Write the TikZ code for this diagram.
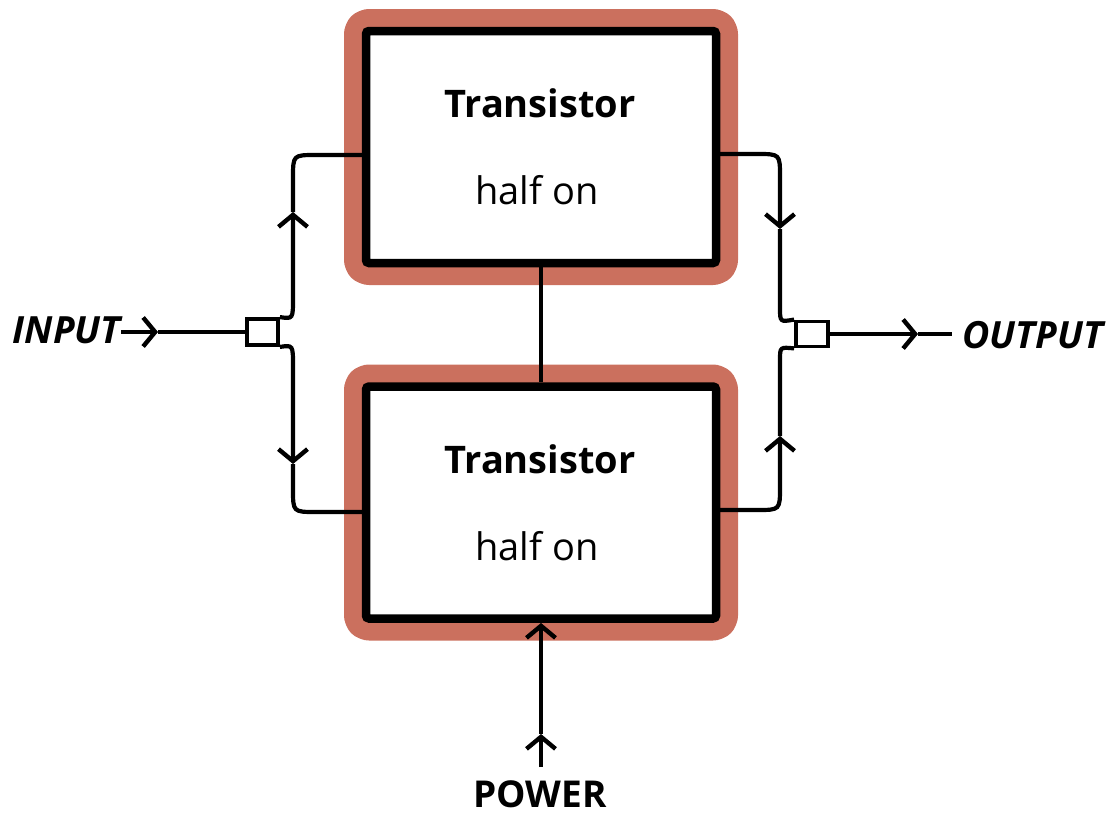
\documentclass[tikz,border=0pt]{standalone}
\usepackage{fontspec}
\setmainfont{Open Sans}
\usetikzlibrary{arrows.meta}
\definecolor{salmon}{RGB}{203,112,94}
\tikzset{
  box/.style={draw=black, fill=white, line width=8.5pt, rounded corners=3pt,
    minimum width=350pt, minimum height=232pt, inner sep=0pt,
    preaction={draw=salmon, line width=44pt, line join=round, rounded corners=3pt}},
  jbox/.style={draw=black, fill=white, line width=3.8pt, inner sep=0pt},
  wire/.style={draw=black, line width=4.2pt},
  barb/.style={-{Straight Barb[length=12pt,width=29pt,line width=4.4pt]}},
  ttl/.style={font=\fontsize{38}{40}\selectfont\bfseries, anchor=base, inner sep=0pt},
  sub/.style={font=\fontsize{38}{40}\selectfont, anchor=base, inner sep=0pt},
  io/.style={font=\fontsize{37.5}{40}\selectfont\bfseries\itshape, inner sep=0pt},
}
\begin{document}
\begin{tikzpicture}[x=1pt, y=-1pt]
\useasboundingbox (0,0) rectangle (1117,814);
% boxes
\node[box] (top) at (541,147) {};
\node[box] (bot) at (541,502.5) {};
\node[ttl] (t1) at (540,117) {Transistor};
\node[sub] (h1) at (537,204) {half on};
\node[ttl] (t2) at (540,473) {Transistor};
\node[sub] (h2) at (537,560) {half on};
% middle link
\draw[wire] (top.south) -- (bot.north);
% junctions
\node[jbox, minimum width=31pt, minimum height=26pt] (jL) at (262.5,332) {};
\node[jbox, minimum width=32pt, minimum height=25pt] (jR) at (812,334) {};
% coordinates
\coordinate (aLU) at (293,212);
\coordinate (aLD) at (293,464);
\coordinate (aRD) at (780,229);
\coordinate (aRU) at (780,436);
\coordinate (aIn) at (158,332);
\coordinate (aOut) at (918,334);
\coordinate (outEnd) at (952,334);
\coordinate (aPw) at (541,734);
\coordinate (pwStart) at (541,767);
\coordinate (pwEnd) at (541,623);
% left wires
\draw[wire, barb] (jL.north east) .. controls (293,319) .. (293,298) -- (aLU);
\draw[wire] (aLU) -- (293,178) .. controls (293,155) .. (316,155) -- (366,155);
\draw[wire, barb] (jL.south east) .. controls (293,345) .. (293,366) -- (aLD);
\draw[wire] (aLD) -- (293,489) .. controls (293,512) .. (316,512) -- (366,512);
% right wires
\draw[wire, barb] (716,154) -- (757,154) .. controls (780,154) .. (780,177) -- (aRD);
\draw[wire] (aRD) -- (780,308) .. controls (780,322) .. (jR.north west);
\draw[wire, barb] (716,510) -- (757,510) .. controls (780,510) .. (780,487) -- (aRU);
\draw[wire] (aRU) -- (780,360) .. controls (780,347) .. (jR.south west);
% input / output
\node[io, anchor=base east] (inp) at (121,343) {INPUT};
\draw[wire, barb] (inp.east |- jL.west) -- (aIn);
\draw[wire] (aIn) -- (jL.west);
\draw[wire, barb] (jR.east) -- (aOut);
\draw[wire] (aOut) -- (outEnd);
\node[io, anchor=base west] (outp) at (962,348) {OUTPUT};
% power
\node[ttl, font=\fontsize{37}{40}\selectfont\bfseries] (pw) at (540,807) {POWER};
\draw[wire, barb] (pwStart) -- (aPw);
\draw[wire, barb] (aPw) -- (pwEnd);
\end{tikzpicture}
\end{document}
